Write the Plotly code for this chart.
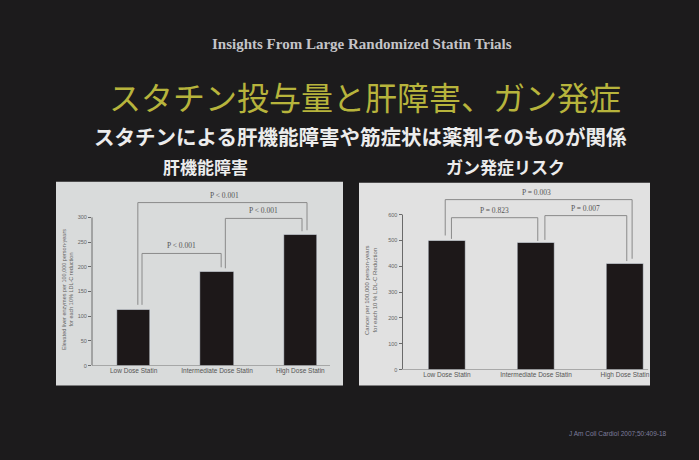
import plotly.graph_objects as go

# ---------------- data ----------------
categories = ["Low Dose Statin", "Intermediate Dose Statin", "High Dose Statin"]
liver_values = [113, 189, 264]
cancer_values = [500, 492, 410]
liver_ticks = [0, 50, 100, 150, 200, 250, 300]
cancer_ticks = [0, 100, 200, 300, 400, 500, 600]
liver_pairs = [(0, 2), (0, 1), (1, 2)]
liver_pvalues = ["P < 0.001", "P < 0.001", "P < 0.001"]
cancer_pairs = [(0, 2), (0, 1), (1, 2)]
cancer_pvalues = ["P = 0.003", "P = 0.823", "P = 0.007"]

slide_title = "Insights From Large Randomized Statin Trials"
main_title = "スタチン投与量と肝障害、ガン発症"
sub_title = "スタチンによる肝機能障害や筋症状は薬剤そのものが関係"
left_heading = "肝機能障害"
right_heading = "ガン発症リスク"
left_ytitle = "Elevated liver enzymes per 100,000 person-years<br>for each 10% LDL-C reduction"
right_ytitle = "Cancer per 100,000 person-years<br>for each 10 % LDL-C Reduction"
source = "J Am Coll Cardiol 2007;50:409-18"

# ---------------- layout helpers ----------------
W, H = 699, 460
def px(x):
    return x / W
def py(y):
    return 1 - y / H

BG = "#1c1b1c"
BAR = "#1d1819"
LINE = "#8a8a8a"
SERIF = "Liberation Serif, Times New Roman, serif"
CJK = "Noto Sans CJK JP, sans-serif"

fig = go.Figure()
fig.add_trace(go.Bar(x=[0, 1, 2], y=liver_values, marker_color=BAR, width=0.4,
                     xaxis="x", yaxis="y", showlegend=False))
fig.add_trace(go.Bar(x=[0, 1, 2], y=cancer_values, marker_color=BAR, width=0.42,
                     xaxis="x2", yaxis="y2", showlegend=False))

shapes = []
annotations = []

def text_at(x, y, text, font, angle=0):
    annotations.append(dict(xref="paper", yref="paper", x=px(x), y=py(y), text=text,
                            xanchor="center", yanchor="middle", textangle=angle,
                            showarrow=False, font=font))

# panels
shapes.append(dict(type="rect", xref="paper", yref="paper", x0=px(56), x1=px(343),
                   y0=py(388), y1=py(183), fillcolor="#d9dbdb", line_width=0, layer="below"))
shapes.append(dict(type="rect", xref="paper", yref="paper", x0=px(359), x1=px(650),
                   y0=py(388), y1=py(184), fillcolor="#e1e1e1", line_width=0, layer="below"))

def axis_lines(xa, ya, ymax, xend):
    shapes.append(dict(type="line", xref=xa + " domain", yref=ya, x0=0, x1=0, y0=0, y1=ymax,
                       line=dict(color="#6a6a6a", width=1)))
    shapes.append(dict(type="line", xref=xa + " domain", yref=ya, x0=0, x1=xend, y0=0, y1=0,
                       line=dict(color="#6a6a6a", width=1)))

axis_lines("x", "y", liver_ticks[-1], 0.952)
axis_lines("x2", "y2", cancer_ticks[-1], 0.92)

def brackets(xa, ya, values, pairs, labels, styles):
    for (i, j), lab, st in zip(pairs, labels, styles):
        top = max(values[i:j + 1]) + st["rise"]
        xl = i + st["dl"]
        xr = j + st["dr"]
        yl = values[i] + st["gap"]
        yr = values[j] + st["gap"]
        path = f"M {xl} {yl} L {xl} {top} L {xr} {top} L {xr} {yr}"
        shapes.append(dict(type="path", xref=xa, yref=ya, path=path,
                           line=dict(color=LINE, width=1)))
        annotations.append(dict(xref=xa, yref=ya, x=(xl + xr) / 2 + st["lx"], y=top,
                                text=lab, showarrow=False, xanchor="center",
                                yanchor="bottom", yshift=1,
                                font=dict(family=SERIF, size=7.5, color="#555")))

brackets("x", "y", liver_values, liver_pairs, liver_pvalues, [
    dict(rise=66, dl=0.05, dr=0.08, gap=10, lx=0.03),
    dict(rise=38, dl=0.1, dr=0.05, gap=10, lx=0.0),
    dict(rise=34, dl=0.1, dr=0.02, gap=8, lx=0.0),
])
brackets("x2", "y2", cancer_values, cancer_pairs, cancer_pvalues, [
    dict(rise=158, dl=-0.02, dr=0.08, gap=19, lx=-0.02),
    dict(rise=88, dl=0.05, dr=0.02, gap=6, lx=0.0),
    dict(rise=104, dl=0.1, dr=0.02, gap=10, lx=0.0),
])

# y axis titles
text_at(67, 292, left_ytitle, dict(family="Liberation Sans, Arial", size=5.5, color="#666"), -90)
text_at(371, 292, right_ytitle, dict(family="Liberation Sans, Arial", size=6, color="#666"), -90)

# titles
text_at(362, 44, f"<b>{slide_title}</b>", dict(family=SERIF, size=15, color="#c4c4c8"))
text_at(365, 97, main_title, dict(family=CJK, size=32, color="#b7b43c"))
text_at(360, 137, f"<b>{sub_title}</b>", dict(family=CJK, size=20.5, color="#ececec"))
text_at(205, 168, f"<b>{left_heading}</b>", dict(family=CJK, size=17, color="#ececec"))
text_at(505, 168, f"<b>{right_heading}</b>", dict(family=CJK, size=17, color="#ececec"))
text_at(618, 436, source, dict(family="Liberation Sans, Arial", size=6.5, color="#7d7d9c"))

tickfont = dict(family="Liberation Sans, Arial", size=5.5, color="#666")
catfont = dict(family="Liberation Sans, Arial", size=6.5, color="#555")

fig.update_layout(
    width=W, height=H,
    margin=dict(l=0, r=0, t=0, b=0),
    paper_bgcolor=BG, plot_bgcolor="rgba(0,0,0,0)",
    bargap=0,
    xaxis=dict(domain=[px(92), px(342)], range=[-0.5, 2.5], tickvals=[0, 1, 2], ticktext=categories,
               tickfont=catfont, showgrid=False, zeroline=False, showline=False, ticks=""),
    yaxis=dict(domain=[py(368), py(189)], range=[0, 360], tickvals=liver_ticks, tickfont=tickfont,
               showgrid=False, zeroline=False, showline=False, ticks="outside", ticklen=3,
               tickcolor="#6a6a6a"),
    xaxis2=dict(domain=[px(402.5), px(669.5)], range=[-0.5, 2.5], tickvals=[0, 1, 2], ticktext=categories,
                tickfont=catfont, showgrid=False, zeroline=False, showline=False, ticks="",
                anchor="y2"),
    yaxis2=dict(domain=[py(372), py(190)], range=[0, 700], tickvals=cancer_ticks, tickfont=tickfont,
                showgrid=False, zeroline=False, showline=False, ticks="outside", ticklen=3,
                tickcolor="#6a6a6a", anchor="x2"),
    shapes=shapes,
    annotations=annotations,
)

fig.write_html("out.html")
